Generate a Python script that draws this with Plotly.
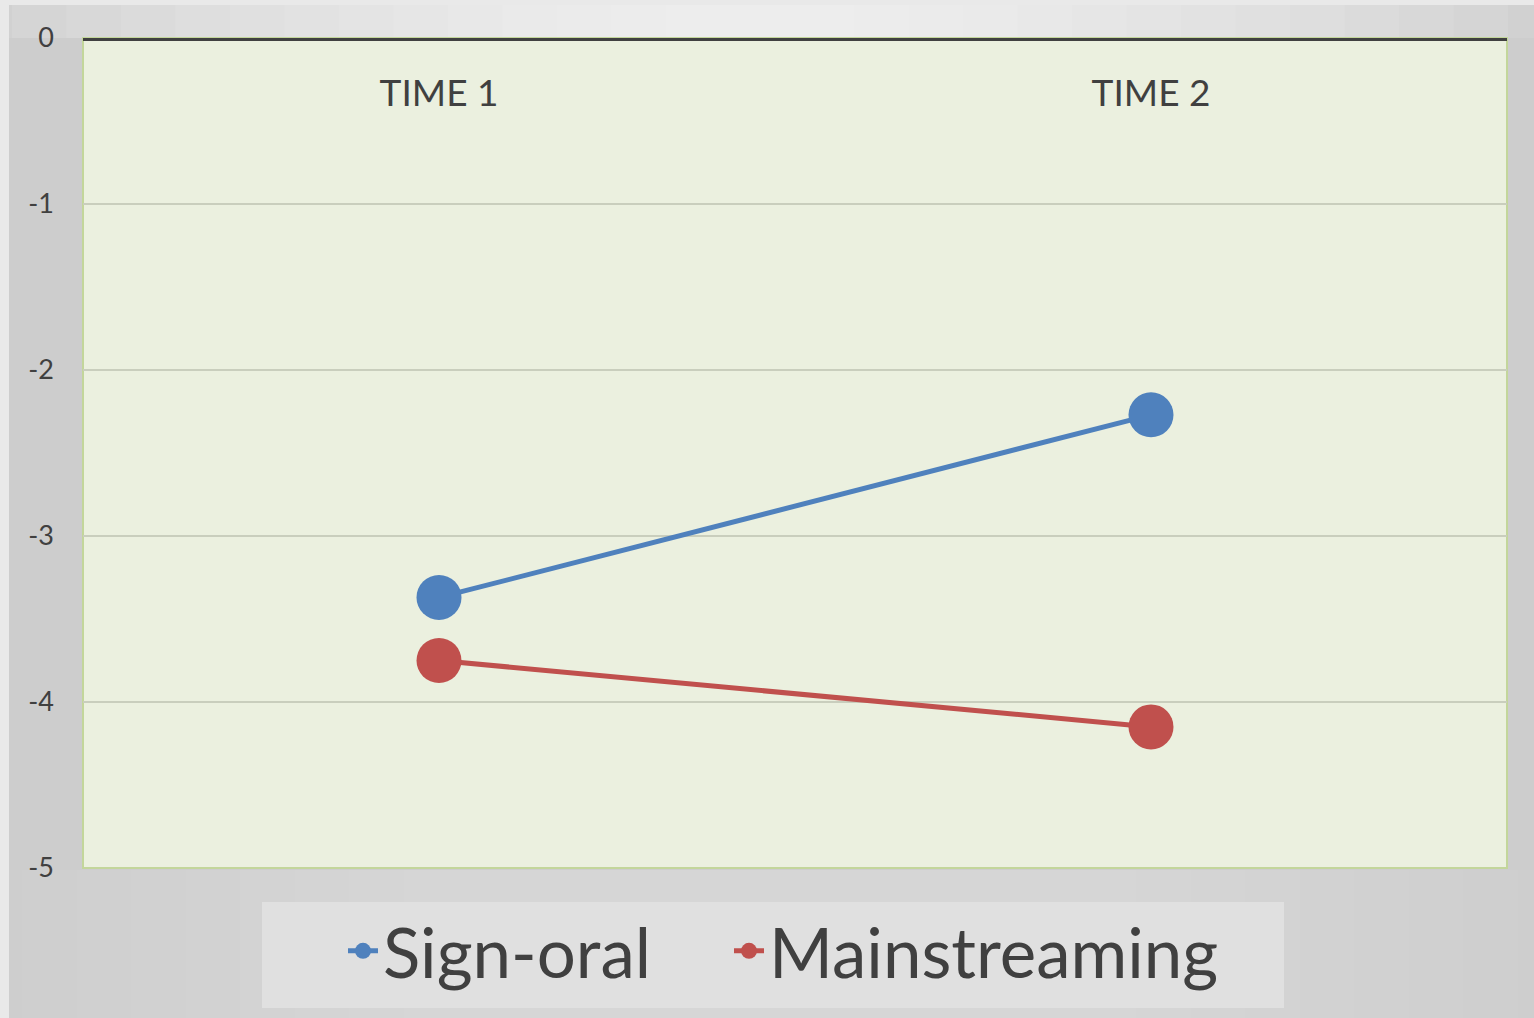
import plotly.graph_objects as go

categories = ["TIME 1", "TIME 2"]
sign_oral = [-3.37, -2.27]
mainstreaming = [-3.75, -4.15]
series_names = ["Sign-oral", "Mainstreaming"]
series_colors = ["#4F81BD", "#C0504D"]
y_ticks = [0, -1, -2, -3, -4, -5]

W, H = 1534, 1018
L, R, T, B = 83, 27, 38, 150
PW, PH = W - L - R, H - T - B


def px(x):
    return (x - L) / PW


def py(y):
    return (H - B - y) / PH


fig = go.Figure()
legend_ids = ["legend", "legend2"]
for name, vals, col, lg in zip(series_names, [sign_oral, mainstreaming], series_colors, legend_ids):
    fig.add_trace(go.Scatter(
        x=categories, y=vals, name=name, mode="lines+markers",
        line=dict(color=col, width=5),
        marker=dict(color=col, size=45),
        legend=lg,
    ))

shapes = []
# outer gray frame
shapes.append(dict(type="rect", xref="paper", yref="paper", x0=px(9), x1=px(W + 5),
                   y0=py(H + 5), y1=py(5), fillcolor="#CDCDCD", line=dict(width=0), layer="below"))
# lighter centre band in top strip
n = 14
for i in range(n):
    f = i / n
    half = 0.5 * (1 - f) * (W - 9) + 40
    cx = 760
    shapes.append(dict(type="rect", xref="paper", yref="paper", x0=px(max(9, cx - half)), x1=px(min(W, cx + half)),
                       y0=py(T), y1=py(5), fillcolor="rgba(255,255,255,0.085)", line=dict(width=0), layer="below"))
# lighter centre in bottom area
for i in range(n):
    f = i / n
    half = 0.5 * (1 - f) * (W - 9) + 40
    cx = 770
    shapes.append(dict(type="rect", xref="paper", yref="paper", x0=px(max(9, cx - half)), x1=px(min(W, cx + half)),
                       y0=py(H + 5), y1=py(H - B + 2), fillcolor="rgba(255,255,255,0.022)", line=dict(width=0), layer="below"))
# legend box
shapes.append(dict(type="rect", xref="paper", yref="paper", x0=px(262), x1=px(1284),
                   y0=py(1008), y1=py(902), fillcolor="#E0E0E0", line=dict(width=0), layer="below"))
# plot area fill and border
shapes.append(dict(type="rect", xref="paper", yref="paper", x0=0, x1=1, y0=0, y1=1,
                   line=dict(color="#C3D69B", width=2), fillcolor="#EBF0DF", layer="below"))
# top axis line at y = 0
shapes.append(dict(type="line", xref="paper", yref="y", x0=0, x1=1, y0=0, y1=0,
                   line=dict(color="#404040", width=6), layer="above"))

legend_font = dict(size=69, color="#404040", family="Lato, Open Sans, sans-serif")
ly = (H - 951) / H
fig.update_layout(
    width=W, height=H,
    margin=dict(l=L, r=R, t=T, b=B),
    paper_bgcolor="#E9E9E9",
    plot_bgcolor="#EBF0DF",
    font=dict(family="Lato, Open Sans, sans-serif", color="#404040"),
    showlegend=True,
    legend=dict(
        orientation="h", xref="container", yref="container",
        x=343 / W, xanchor="left", y=ly, yanchor="middle",
        bgcolor="rgba(0,0,0,0)", font=legend_font, itemsizing="trace",
    ),
    legend2=dict(
        orientation="h", xref="container", yref="container",
        x=729 / W, xanchor="left", y=ly, yanchor="middle",
        bgcolor="rgba(0,0,0,0)", font=legend_font, itemsizing="trace",
    ),
    shapes=shapes,
    xaxis=dict(
        type="category", range=[-0.5, 1.5], side="bottom",
        anchor="free", position=1, automargin=False,
        showline=False, showgrid=False, zeroline=False, ticks="",
        ticklabelstandoff=30,
        tickfont=dict(size=37, color="#404040"),
    ),
    yaxis=dict(
        range=[-5, 0], tickvals=y_ticks, ticktext=[str(v) for v in y_ticks],
        showgrid=True, gridcolor="#C9CEBD", gridwidth=1.5, automargin=False,
        zeroline=False, ticks="", ticklabelstandoff=28,
        tickfont=dict(size=27, color="#404040"),
    ),
)

fig.write_html("out.html")
